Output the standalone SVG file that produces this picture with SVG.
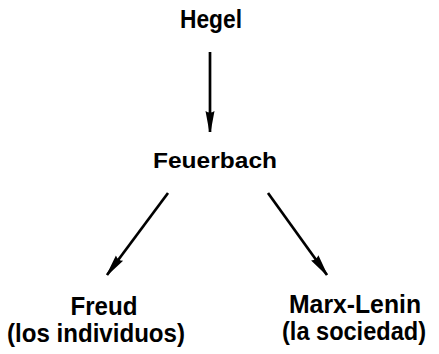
<svg xmlns="http://www.w3.org/2000/svg" width="439" height="354" viewBox="0 0 439 354">
<style>
text{font-family:"Liberation Sans",Arial,sans-serif;font-weight:bold;fill:#000;text-anchor:middle}
.c{stroke:#000;stroke-width:2.7;fill:none;marker-end:url(#ah)}
</style>
<defs>
<marker id="ah" markerUnits="userSpaceOnUse" markerWidth="24" markerHeight="12" viewBox="0 -6 24 12" refX="21" refY="0" orient="auto">
<path d="M0,-4.5 Q3,0 0,4.5 L21,0.6 L21,-0.6 Z" fill="#000"/>
</marker>
</defs>
<rect width="439" height="354" fill="#fff"/>
<g id="connectors">
<line class="c" x1="210" y1="52" x2="210" y2="132"/>
<line class="c" x1="168" y1="193" x2="107" y2="275"/>
<line class="c" x1="268" y1="193" x2="327" y2="275"/>
</g>
<g id="hegel"><text x="211" y="28" font-size="25" textLength="62" lengthAdjust="spacingAndGlyphs">Hegel</text></g>
<g id="feuerbach"><text x="215" y="168" font-size="22" textLength="124" lengthAdjust="spacingAndGlyphs">Feuerbach</text></g>
<g id="freud"><text x="104" y="315" font-size="25" textLength="67" lengthAdjust="spacingAndGlyphs">Freud</text>
<text x="96" y="342" font-size="25" textLength="178" lengthAdjust="spacingAndGlyphs">(los individuos)</text></g>
<g id="marx"><text x="355" y="313" font-size="25" textLength="132" lengthAdjust="spacingAndGlyphs">Marx-Lenin</text>
<text x="354" y="340" font-size="25" textLength="144" lengthAdjust="spacingAndGlyphs">(la sociedad)</text></g>
</svg>
